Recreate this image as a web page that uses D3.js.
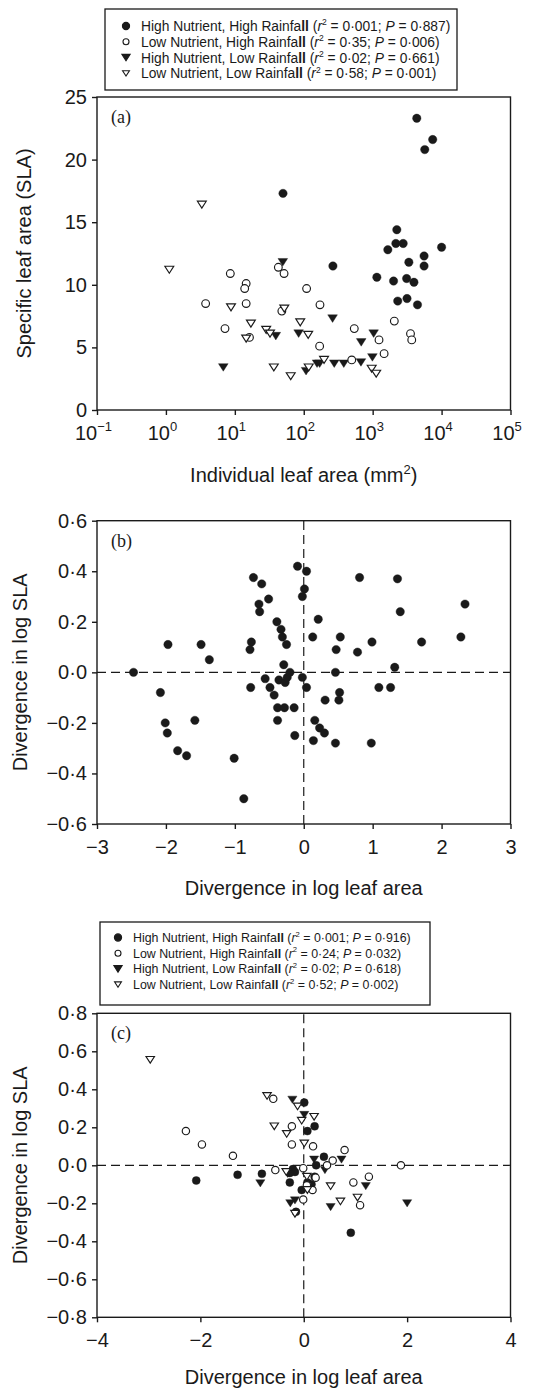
<!DOCTYPE html>
<html>
<head>
<meta charset="utf-8">
<title>SLA vs leaf area</title>
<script src="https://cdnjs.cloudflare.com/ajax/libs/d3/7.8.5/d3.min.js"></script>
<style>
  body { margin: 0; background: #fff; }
  svg text { font-family: "Liberation Sans", Arial, sans-serif; fill: #1a1a1a; }
</style>
</head>
<body>
<svg id="chart" width="548" height="1388"></svg>
<script>
// ---- data ----
var groupNames = ["High Nutrient, High Rainfall", "Low Nutrient, High Rainfall",
                  "High Nutrient, Low Rainfall", "Low Nutrient, Low Rainfall"];
var groupMarks = ["dot", "ring", "tri", "otri"];
var legA_r2 = ["0·001", "0·35", "0·02", "0·58"];
var legA_p  = ["0·887", "0·006", "0·661", "0·001"];
var legC_r2 = ["0·001", "0·24", "0·02", "0·52"];
var legC_p  = ["0·916", "0·032", "0·618", "0·002"];

// (a) leaf area (mm2) , SLA
var aHNHR = [[50,17.3],[265,11.5],[4365,23.3],[7430,21.6],[5700,20.8],[2240,14.4],[2170,13.3],[2770,13.3],
             [1660,12.8],[10000,13.0],[5570,12.3],[5570,11.5],[3350,11.8],[1150,10.6],[2010,10.3],[3110,10.5],
             [3970,10.2],[2310,8.7],[3150,8.9],[4470,8.4]];
var aLNHR = [[3.77,8.5],[8.6,10.9],[7.2,6.5],[14.6,10.1],[13.9,9.7],[14.6,8.5],[16.3,5.8],[42.8,11.4],
             [51.8,10.9],[48.1,7.9],[110,9.7],[172,8.4],[170,5.1],[541,6.5],[1236,5.6],[497,4.0],
             [1466,4.5],[2061,7.1],[3540,6.1],[3690,5.6]];
var aHNLR = [[6.8,3.4],[49.7,11.8],[39.3,5.9],[84.3,6.1],[262,7.3],[108,3.1],[156,3.7],[170,3.7],
             [277,3.7],[381,3.7],[682,5.4],[676,3.8],[1033,6.1],[991,4.2]];
var aLNLR = [[1.12,11.2],[3.32,16.4],[8.8,8.2],[17.1,6.9],[14.6,5.7],[28.5,6.4],[32.4,6.1],[52.2,8.1],
             [36.8,3.4],[64.7,2.7],[88.9,7.0],[116,6.0],[118,3.4],[197,4.0],[968,3.3],[1125,2.9]];
var aTicksX = [0.1, 1, 10, 100, 1000, 10000, 100000];
var aExp = ["−1", "0", "1", "2", "3", "4", "5"];
var aTicksY = [0, 5, 10, 15, 20, 25];

// (b) divergence in log leaf area, divergence in log SLA
var bX = [-2.47,-1.97,-2.08,-2.01,-1.98,-1.83,-1.70,-1.49,-1.37,-1.58,-1.01,-0.87,-0.73,-0.61,-0.51,-0.65,
          -0.64,-0.76,-0.78,-0.77,-0.56,-0.49,-0.43,-0.39,-0.33,-0.31,-0.25,-0.29,-0.36,-0.27,-0.24,-0.20,
          -0.38,-0.28,-0.38,-0.14,-0.13,-0.09,0.04,0.01,-0.02,-0.02,0.04,0.21,0.13,0.16,0.23,0.14,
          0.30,0.81,1.36,1.40,2.34,2.28,1.71,0.99,0.53,0.47,0.78,0.46,1.32,1.09,1.26,0.52,0.51,0.31,0.46,0.98];
var bY = [0.00,0.11,-0.08,-0.20,-0.24,-0.31,-0.33,0.11,0.05,-0.19,-0.34,-0.50,0.375,0.35,0.29,0.27,
          0.24,0.12,0.09,-0.06,-0.025,-0.06,-0.09,0.20,0.17,0.14,0.11,0.03,-0.03,-0.04,-0.02,0.00,
          -0.14,-0.14,-0.19,-0.14,-0.25,0.42,0.40,0.33,0.30,-0.02,-0.06,0.21,0.14,-0.19,-0.22,-0.27,
          -0.24,0.375,0.37,0.24,0.27,0.14,0.12,0.12,0.14,0.09,0.08,0.00,0.02,-0.06,-0.06,-0.08,-0.11,-0.11,-0.28,-0.28];
var bTicksX = [-3, -2, -1, 0, 1, 2, 3];
var bTicksY = [-0.6, -0.4, -0.2, 0, 0.2, 0.4, 0.6];

// (c) same axes, by group
var cHNHR = [[-2.08,-0.08],[-1.28,-0.05],[-0.81,-0.045],[-0.27,-0.09],[-0.21,-0.02],[-0.17,-0.035],[-0.27,-0.04],
             [0.01,0.33],[0.07,0.18],[0.21,0.205],[-0.04,-0.13],[-0.15,-0.245],[0.07,-0.09],[0.15,-0.10],
             [0.21,-0.06],[0.24,0.00],[0.39,0.045],[0.91,-0.355]];
var cLNHR = [[-2.28,0.18],[-1.97,0.11],[-1.37,0.05],[-0.55,-0.025],[-0.59,0.35],[-0.23,0.205],[-0.23,0.11],
             [-0.01,-0.015],[-0.01,-0.18],[0.18,0.10],[0.17,-0.13],[0.23,-0.065],[0.06,-0.105],[0.79,0.08],
             [0.56,0.025],[0.45,0.00],[1.88,0.00],[1.26,-0.06],[0.96,-0.09],[1.09,-0.21]];
var cHNLR = [[-0.84,-0.095],[-0.22,0.345],[0.01,0.265],[-0.26,-0.20],[-0.17,-0.185],[-0.31,-0.045],[0.20,0.03],
             [0.41,-0.025],[0.73,0.03],[1.20,-0.11],[0.52,-0.22],[2.00,-0.20]];
var cLNLR = [[-2.97,0.555],[-0.71,0.365],[-0.57,0.205],[-0.33,0.165],[-0.34,-0.035],[-0.12,0.31],[-0.04,0.235],
             [0.01,0.115],[0.20,0.255],[-0.17,-0.255],[0.06,-0.06],[0.52,-0.11],[0.71,-0.19],[1.04,-0.17],[0.07,-0.13]];
var cTicksX = [-4, -2, 0, 2, 4];
var cTicksY = [-0.8, -0.6, -0.4, -0.2, 0, 0.2, 0.4, 0.6, 0.8];

// ---- drawing ----
var svg = d3.select("#chart");
var INK = "#1a1a1a";
var L = 97, R = 510.5;
var dotTxt = function(f) { return function(v) { return d3.format(f)(v).replace(".", "·"); }; };

function markPath(type, s) {
  if (type == "tri" || type == "otri") {
    var w = s * 1.15, h = s * 0.9;
    return "M" + (-w) + "," + (-h) + "L" + w + "," + (-h) + "L0," + h + "Z";
  }
  return d3.symbol(d3.symbolCircle, Math.PI * s * s)();
}

function drawMarks(g, pts, type, x, y, s) {
  var open = (type == "ring" || type == "otri");
  g.selectAll(null).data(pts).join("path")
    .attr("d", markPath(type, open ? s * 0.92 : s))
    .attr("transform", function(d) { return "translate(" + x(d[0]) + "," + y(d[1]) + ")"; })
    .attr("fill", open ? "#fff" : INK)
    .attr("stroke", INK)
    .attr("stroke-width", open ? 1.15 : 0.4);
}

function frame(g, x, y) {
  g.append("rect")
    .attr("x", x.range()[0]).attr("y", y.range()[1])
    .attr("width", x.range()[1] - x.range()[0])
    .attr("height", y.range()[0] - y.range()[1])
    .attr("fill", "none").attr("stroke", INK).attr("stroke-width", 1.4);
}

function axes(g, x, y, xt, yt, xfmt, yfmt, xpad) {
  var gx = g.append("g").attr("transform", "translate(0," + y.range()[0] + ")")
    .call(d3.axisBottom(x).tickValues(xt).tickFormat(xfmt).tickSize(5).tickSizeOuter(0).tickPadding(xpad));
  var gy = g.append("g").attr("transform", "translate(" + x.range()[0] + ",0)")
    .call(d3.axisLeft(y).tickValues(yt).tickFormat(yfmt).tickSize(5).tickSizeOuter(0).tickPadding(5));
  [gx, gy].forEach(function(a) {
    a.select(".domain").remove();
    a.selectAll("line").attr("stroke", INK).attr("stroke-width", 1.4);
    a.selectAll("text").attr("font-size", 20).attr("font-family", null).attr("fill", INK);
  });
  return gx;
}

function titles(g, x, y, xt, yt, xBase, yCx) {
  g.append("text").attr("x", (x.range()[0] + x.range()[1]) / 2).attr("y", xBase)
    .attr("text-anchor", "middle").attr("font-size", 20).text(xt);
  g.append("text")
    .attr("transform", "translate(" + yCx + "," + (y.range()[0] + y.range()[1]) / 2 + ") rotate(-90)")
    .attr("text-anchor", "middle").attr("dy", "0.35em").attr("font-size", 20).text(yt);
}

function tag(g, x, y, s) {
  g.append("text").attr("x", x.range()[0] + 14).attr("y", y.range()[1] + 26)
    .style("font-family", "'Liberation Serif', 'Times New Roman', serif")
    .attr("font-size", 18).text(s);
}

function zeroLines(g, x, y) {
  g.append("line").attr("x1", x(0)).attr("x2", x(0)).attr("y1", y.range()[0]).attr("y2", y.range()[1])
    .attr("stroke", INK).attr("stroke-width", 1.2).attr("stroke-dasharray", "9,5");
  g.append("line").attr("x1", x.range()[0]).attr("x2", x.range()[1]).attr("y1", y(0)).attr("y2", y(0))
    .attr("stroke", INK).attr("stroke-width", 1.2).attr("stroke-dasharray", "9,5");
}

function legend(g, x0, y0, w, h, r2s, ps, fs, rowH, top, gap) {
  g.append("rect").attr("x", x0).attr("y", y0).attr("width", w).attr("height", h)
    .attr("fill", "#fff").attr("stroke", INK).attr("stroke-width", 1.3);
  groupNames.forEach(function(name, i) {
    var cy = y0 + top + i * rowH;
    g.append("path").attr("d", markPath(groupMarks[i], i % 2 ? 3.0 : 3.6))
      .attr("transform", "translate(" + (x0 + gap) + "," + cy + ")")
      .attr("fill", (groupMarks[i] == "ring" || groupMarks[i] == "otri") ? "#fff" : INK)
      .attr("stroke", INK).attr("stroke-width", 1.1);
    var t = g.append("text").attr("x", x0 + gap + 15).attr("y", cy).attr("dy", "0.36em").attr("font-size", fs);
    t.append("tspan").text(name.slice(0, -2));
    t.append("tspan").attr("font-weight", "bold").text("ll");
    t.append("tspan").text(" (");
    t.append("tspan").attr("font-style", "italic").text("r");
    t.append("tspan").attr("font-size", fs * 0.62).attr("dy", -fs * 0.42).text("2");
    t.append("tspan").attr("dy", fs * 0.42).text(" = " + r2s[i] + "; ");
    t.append("tspan").attr("font-style", "italic").text("P");
    t.append("tspan").text(" = " + ps[i] + ")");
  });
}

// panel (a)
var gA = svg.append("g");
var xA = d3.scaleLog().domain([0.1, 1e5]).range([L, R]);
var yA = d3.scaleLinear().domain([0, 25]).range([410, 97]);
var gxA = axes(gA, xA, yA, aTicksX, aTicksY, function() { return "10"; }, d3.format("d"), 11);
gxA.selectAll(".tick text").append("tspan")
  .attr("font-size", 13).attr("dy", "-0.7em").text(function(d, i) { return aExp[i]; });
gxA.selectAll(".tick text").attr("dx", "-0.2em");
frame(gA, xA, yA);
drawMarks(gA, aHNHR, "dot", xA, yA, 4.2);
drawMarks(gA, aHNLR, "tri", xA, yA, 4.2);
drawMarks(gA, aLNHR, "ring", xA, yA, 4.2);
drawMarks(gA, aLNLR, "otri", xA, yA, 4.2);
tag(gA, xA, yA, "(a)");
titles(gA, xA, yA, "", "Specific leaf area (SLA)", 480, 24);
var tA = gA.append("text").attr("x", (L + R) / 2).attr("y", 482).attr("text-anchor", "middle").attr("font-size", 20);
tA.append("tspan").text("Individual leaf area (mm");
tA.append("tspan").attr("font-size", 13).attr("dy", -8).text("2");
tA.append("tspan").attr("dy", 8).text(")");
legend(gA, 105, 9, 352, 81, legA_r2, legA_p, 13.8, 15.8, 17, 21);

// panel (b)
var gB = svg.append("g");
var xB = d3.scaleLinear().domain([-3, 3]).range([L, R]);
var yB = d3.scaleLinear().domain([-0.6, 0.6]).range([824, 520.7]);
axes(gB, xB, yB, bTicksX, bTicksY, d3.format("d"), dotTxt(".1f"), 11);
frame(gB, xB, yB);
zeroLines(gB, xB, yB);
drawMarks(gB, d3.zip(bX, bY), "dot", xB, yB, 4.2);
tag(gB, xB, yB, "(b)");
titles(gB, xB, yB, "Divergence in log leaf area", "Divergence in log SLA", 895, 20);

// panel (c)
var gC = svg.append("g");
var xC = d3.scaleLinear().domain([-4, 4]).range([L, R]);
var yC = d3.scaleLinear().domain([-0.8, 0.8]).range([1317.3, 1013.3]);
axes(gC, xC, yC, cTicksX, cTicksY, d3.format("d"), dotTxt(".1f"), 11);
frame(gC, xC, yC);
zeroLines(gC, xC, yC);
drawMarks(gC, cHNHR, "dot", xC, yC, 4.0);
drawMarks(gC, cHNLR, "tri", xC, yC, 4.0);
drawMarks(gC, cLNHR, "ring", xC, yC, 4.0);
drawMarks(gC, cLNLR, "otri", xC, yC, 4.0);
tag(gC, xC, yC, "(c)");
titles(gC, xC, yC, "Divergence in log leaf area", "Divergence in log SLA", 1384, 20);
legend(gC, 100, 922, 330, 83, legC_r2, legC_p, 12.4, 15.7, 15.5, 18);
</script>
</body>
</html>
